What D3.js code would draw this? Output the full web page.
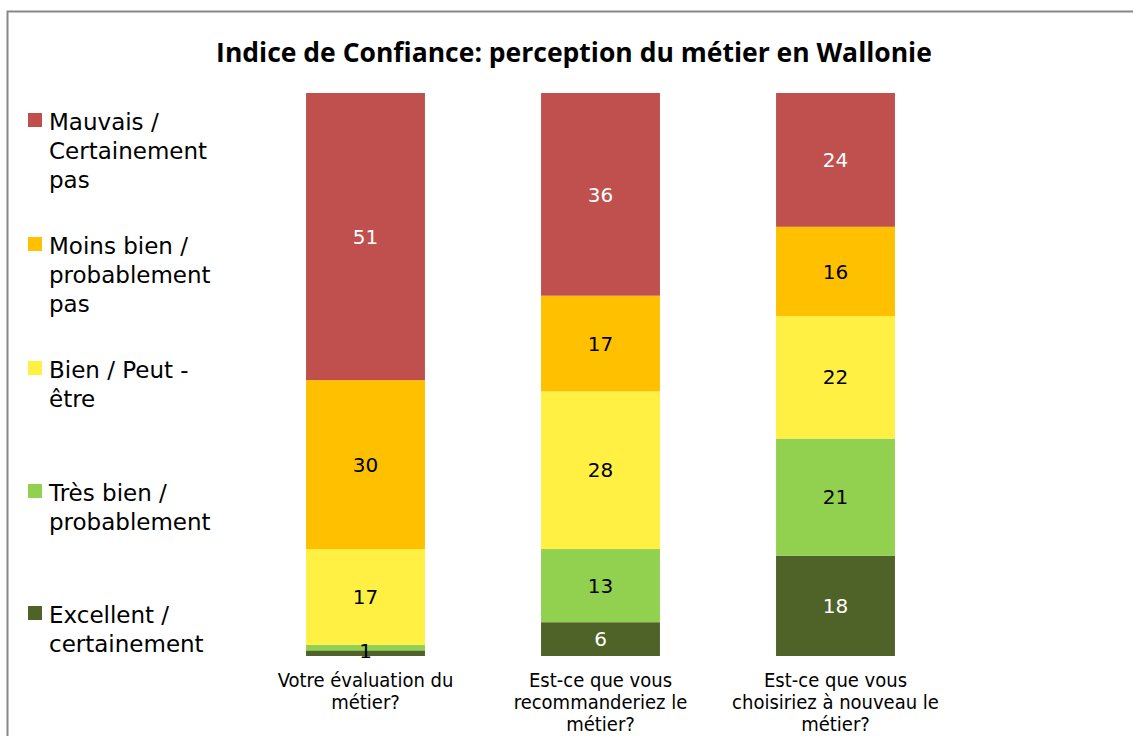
<!DOCTYPE html>
<html lang="fr">
<head>
<meta charset="UTF-8">
<title>Indice de Confiance</title>
<script src="https://d3js.org/d3.v7.min.js"></script>
<style>
  body { margin: 0; background: #fff; }
  svg { display: block; }
</style>
</head>
<body>
<script>
// data
const questions = [
  ["Votre évaluation du", "métier?"],
  ["Est-ce que vous", "recommanderiez le", "métier?"],
  ["Est-ce que vous", "choisiriez à nouveau le", "métier?"]
];
const seriesNames = ["Excellent / certainement", "Très bien / probablement",
  "Bien / Peut - être", "Moins bien / probablement pas", "Mauvais / Certainement pas"];
const legendLines = [
  ["Mauvais /", "Certainement", "pas"],
  ["Moins bien /", "probablement", "pas"],
  ["Bien / Peut -", "être"],
  ["Très bien /", "probablement"],
  ["Excellent /", "certainement"]
];
const excellent = [1, 6, 18];
const tresBien  = [1, 13, 21];
const bien      = [17, 28, 22];
const moinsBien = [30, 17, 16];
const mauvais   = [51, 36, 24];
const colors = ["#4F6228", "#92D050", "#FFF043", "#FFC000", "#C0504D"];
const labelColors = ["#fff", "#000", "#000", "#000", "#fff"];

const width = 1133, height = 736;
const svg = d3.select("body").append("svg")
  .attr("width", width).attr("height", height);

// frame
svg.append("path")
  .attr("d", `M7.5,${height} V11.5 H${width}`)
  .attr("fill", "none").attr("stroke", "#888").attr("stroke-width", 2);

svg.append("text")
  .attr("x", 574).attr("y", 62)
  .attr("text-anchor", "middle")
  .style("font-family", "'Open Sans', sans-serif")
  .style("font-weight", "bold").style("font-size", "26.5px")
  .text("Indice de Confiance: perception du métier en Wallonie");

const rows = questions.map((q, i) => ({
  q: i, s0: excellent[i], s1: tresBien[i], s2: bien[i], s3: moinsBien[i], s4: mauvais[i]
}));
const keys = ["s0", "s1", "s2", "s3", "s4"];
const stacked = d3.stack().keys(keys).offset(d3.stackOffsetExpand)(rows);

const x = d3.scaleBand().domain(d3.range(questions.length))
  .range([248, 953]).paddingInner(0.494).paddingOuter(0.247);
const y = d3.scaleLinear().domain([0, 1]).range([656, 93]);

const g = svg.append("g");
stacked.forEach((layer, k) => {
  g.selectAll(null).data(layer).join("rect")
    .attr("x", (d, i) => x(i))
    .attr("width", x.bandwidth())
    .attr("y", d => y(d[1]))
    .attr("height", d => y(d[0]) - y(d[1]))
    .attr("fill", colors[k]);
});

// value labels (thin neighbouring segments share one label at their boundary)
const vals = [excellent, tresBien, bien, moinsBien, mauvais];
questions.forEach((q, i) => {
  for (let k = 0; k < keys.length; k++) {
    const d = stacked[k][i];
    const h = y(d[0]) - y(d[1]);
    let cy = (y(d[0]) + y(d[1])) / 2;
    if (h < 8) {
      if (k + 1 < keys.length && y(stacked[k + 1][i][0]) - y(stacked[k + 1][i][1]) < 8) continue;
      if (k > 0 && y(stacked[k - 1][i][0]) - y(stacked[k - 1][i][1]) < 8) cy = y(d[0]);
    }
    svg.append("text")
      .attr("x", x(i) + x.bandwidth() / 2).attr("y", cy)
      .attr("dy", "0.36em").attr("text-anchor", "middle")
      .style("font-family", "'DejaVu Sans', Verdana, sans-serif")
      .style("font-size", "20px")
      .attr("fill", h < 8 ? "#000" : labelColors[k])
      .text(vals[k][i]);
  }
});

// category labels
questions.forEach((lines, i) => {
  const t = svg.append("text")
    .attr("text-anchor", "middle")
    .style("font-family", "'DejaVu Sans Condensed', 'DejaVu Sans', sans-serif")
    .style("font-size", "20px").attr("fill", "#000");
  lines.forEach((l, j) => t.append("tspan")
    .attr("x", x(i) + x.bandwidth() / 2).attr("y", 687 + j * 22).text(l));
});

// legend
const legendY = [122, 246, 370, 493, 615];
legendLines.forEach((lines, k) => {
  const c = 4 - k;
  svg.append("rect").attr("x", 28).attr("y", legendY[k] - 9)
    .attr("width", 14).attr("height", 14).attr("fill", colors[c]);
  const t = svg.append("text")
    .style("font-family", "'DejaVu Sans', Verdana, sans-serif")
    .style("font-size", "23px").attr("fill", "#000");
  lines.forEach((l, j) => t.append("tspan")
    .attr("x", 49).attr("y", legendY[k] + 8 + j * 29).text(l));
});
</script>
</body>
</html>
